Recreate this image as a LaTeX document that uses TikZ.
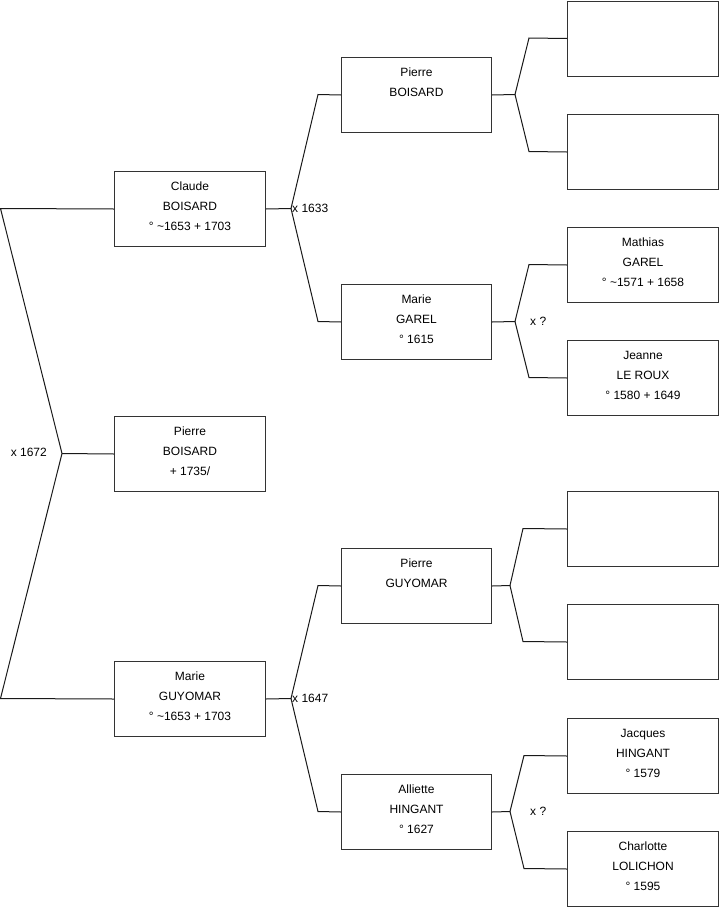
\documentclass[tikz,border=0pt]{standalone}
\usepackage{fontspec}
\setmainfont{Liberation Sans}
\begin{document}
\begin{tikzpicture}[x=1pt,y=-1pt,
  box/.style={draw=black!80, line width=1pt, minimum width=151pt, minimum height=75pt, inner sep=0pt, anchor=north west},
  txt/.style={anchor=north, align=center, inner sep=0pt, font=\fontsize{12}{20}\selectfont, yshift=-11pt},
  lnk/.style={line width=1pt, black!90},
  lbl/.style={inner sep=0pt, font=\fontsize{12}{14}\selectfont}]
\useasboundingbox (0,0) rectangle (719,908);
% column 1
\node[box] (c1) at (114,171) {};
\node[box] (c2) at (114,416) {};
\node[box] (c3) at (114,661) {};
% column 2
\node[box, minimum width=150pt] (p1) at (341,57) {};
\node[box, minimum width=150pt] (p2) at (341,284) {};
\node[box, minimum width=150pt] (p3) at (341,548) {};
\node[box, minimum width=150pt] (p4) at (341,774) {};
% column 3
\node[box] (g1) at (567,0.5) {};
\node[box] (g2) at (567,114) {};
\node[box] (g3) at (567,227) {};
\node[box] (g4) at (567,340) {};
\node[box] (g5) at (567,491) {};
\node[box] (g6) at (567,604) {};
\node[box] (g7) at (567,718) {};
\node[box] (g8) at (567,831) {};
% texts
\node[txt] (t1) at (c1.north) {Claude\\BOISARD\\° \textasciitilde1653 + 1703};
\node[txt] (t2) at (c2.north) {Pierre\\BOISARD\\+ 1735/};
\node[txt] (t3) at (c3.north) {Marie\\GUYOMAR\\° \textasciitilde1653 + 1703};
\node[txt] (t4) at (p1.north) {Pierre\\BOISARD};
\node[txt] (t5) at (p2.north) {Marie\\GAREL\\° 1615};
\node[txt] (t6) at (p3.north) {Pierre\\GUYOMAR};
\node[txt] (t7) at (p4.north) {Alliette\\HINGANT\\° 1627};
\node[txt] (t8) at (g3.north) {Mathias\\GAREL\\° \textasciitilde1571 + 1658};
\node[txt] (t9) at (g4.north) {Jeanne\\LE ROUX\\° 1580 + 1649};
\node[txt] (t10) at (g7.north) {Jacques\\HINGANT\\° 1579};
\node[txt] (t11) at (g8.north) {Charlotte\\LOLICHON\\° 1595};
% junction coordinates
\coordinate (rA) at (0.5,208.5);
\coordinate (rJ) at (62,453.5);
\coordinate (rB) at (0.5,698.5);
\coordinate (j1) at (291,208.5);
\coordinate (j1a) at (318,94.5);
\coordinate (j1b) at (318,321.5);
\coordinate (j2) at (291,698.5);
\coordinate (j2a) at (318,585.5);
\coordinate (j2b) at (318,811.5);
\coordinate (k1) at (515,94.5);
\coordinate (k1a) at (529,38);
\coordinate (k1b) at (529,151.5);
\coordinate (k2) at (515,321.5);
\coordinate (k2a) at (529,264.5);
\coordinate (k2b) at (529,377.5);
\coordinate (k3) at (510,585.5);
\coordinate (k3a) at (523,528.5);
\coordinate (k3b) at (523,641.5);
\coordinate (k4) at (510,811.5);
\coordinate (k4a) at (524,755.5);
\coordinate (k4b) at (524,868.5);
% connectors
\draw[lnk] (c1.west) -- (rA) -- (rJ) -- (rB) -- (c3.west);
\draw[lnk] (rJ) -- (c2.west);
\draw[lnk] (c1.east) -- (j1) -- (j1a) -- (p1.west);
\draw[lnk] (j1) -- (j1b) -- (p2.west);
\draw[lnk] (c3.east) -- (j2) -- (j2a) -- (p3.west);
\draw[lnk] (j2) -- (j2b) -- (p4.west);
\draw[lnk] (p1.east) -- (k1) -- (k1a) -- (g1.west);
\draw[lnk] (k1) -- (k1b) -- (g2.west);
\draw[lnk] (p2.east) -- (k2) -- (k2a) -- (g3.west);
\draw[lnk] (k2) -- (k2b) -- (g4.west);
\draw[lnk] (p3.east) -- (k3) -- (k3a) -- (g5.west);
\draw[lnk] (k3) -- (k3b) -- (g6.west);
\draw[lnk] (p4.east) -- (k4) -- (k4a) -- (g7.west);
\draw[lnk] (k4) -- (k4b) -- (g8.west);
% marriage labels
\node[lbl, anchor=east] (m0) at (47,452) {x 1672};
\node[lbl, anchor=west] (m1) at (292,208) {x 1633};
\node[lbl, anchor=west] (m2) at (292,698) {x 1647};
\node[lbl, anchor=west] (m3) at (530,321) {x ?};
\node[lbl, anchor=west] (m4) at (530,811) {x ?};
\end{tikzpicture}
\end{document}
